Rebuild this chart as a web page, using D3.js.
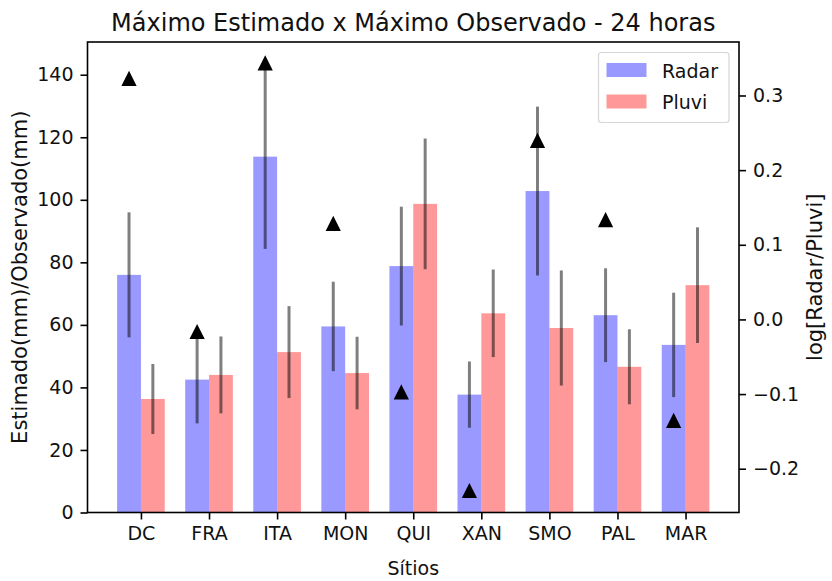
<!DOCTYPE html>
<html>
<head>
<meta charset="utf-8">
<script src="https://cdn.jsdelivr.net/npm/d3@7"></script>
<style>
  html, body { margin: 0; padding: 0; background: #fff; }
  svg { display: block; font-family: "DejaVu Sans", sans-serif; }
</style>
</head>
<body>
<svg id="chart" width="832" height="581"></svg>
<script>
// Sites along the x axis
const sites = ["DC", "FRA", "ITA", "MON", "QUI", "XAN", "SMO", "PAL", "MAR"];

// Maximum 24 h rainfall (mm): radar estimate and rain-gauge observation
const radar = [76.0, 42.5, 113.8, 59.5, 78.8, 37.7, 102.8, 63.1, 53.6];
const pluvi = [36.3, 44.0, 51.3, 44.6, 98.7, 63.7, 59.0, 46.6, 72.7];

// Error bar half-lengths (mm)
const radarErr = [20.0, 14.0, 29.5, 14.3, 19.0, 10.6, 27.0, 15.0, 16.7];
const pluviErr = [11.2, 12.3, 14.7, 11.6, 20.9, 14.0, 18.4, 12.0, 18.5];

// log10(Radar/Pluvi) per site, plotted on the right axis
const logRatio = [0.322, -0.017, 0.343, 0.128, -0.098, -0.230, 0.239, 0.133, -0.136];

const leftTicks = [0, 20, 40, 60, 80, 100, 120, 140];
const rightTicks = [-0.2, -0.1, 0.0, 0.1, 0.2, 0.3];

const barWidth = 0.35;

const svg = d3.select("#chart");
const plot = { left: 87.5, right: 739, top: 42, bottom: 512.5 };
const tickFont = 19;
const labelFont = 21;
const textColor = "#111";

// x: category index with matplotlib-style 5% margins around the bars
const xMin = -barWidth, xMax = sites.length - 1 + barWidth;
const xPad = 0.05 * (xMax - xMin);
const x = d3.scaleLinear().domain([xMin - xPad, xMax + xPad]).range([plot.left, plot.right]);

// left y: bars start at 0, top gets a 5% margin above the highest error bar
const yTop = d3.max([
  ...radar.map((v, i) => v + radarErr[i]),
  ...pluvi.map((v, i) => v + pluviErr[i])
]) * 1.05;
const y = d3.scaleLinear().domain([0, yTop]).range([plot.bottom, plot.top]);

// right y: 5% margin both ways around the ratio markers
const rMin = d3.min(logRatio), rMax = d3.max(logRatio);
const rPad = 0.05 * (rMax - rMin);
const y2 = d3.scaleLinear().domain([rMin - rPad, rMax + rPad]).range([plot.bottom, plot.top]);

// bars
const g = svg.append("g");
g.selectAll("rect.radar").data(radar).join("rect")
  .attr("class", "radar")
  .attr("x", (d, i) => x(i - barWidth))
  .attr("width", (d, i) => x(i) - x(i - barWidth))
  .attr("y", d => y(d))
  .attr("height", d => y(0) - y(d))
  .attr("fill", "#0000ff").attr("fill-opacity", 0.4);

g.selectAll("rect.pluvi").data(pluvi).join("rect")
  .attr("class", "pluvi")
  .attr("x", (d, i) => x(i))
  .attr("width", (d, i) => x(i + barWidth) - x(i))
  .attr("y", d => y(d))
  .attr("height", d => y(0) - y(d))
  .attr("fill", "#ff0000").attr("fill-opacity", 0.4);

// error bars, centred on each bar
const errs = [
  ...radar.map((v, i) => ({ cx: i - barWidth / 2, v, e: radarErr[i] })),
  ...pluvi.map((v, i) => ({ cx: i + barWidth / 2, v, e: pluviErr[i] }))
];
g.selectAll("line.err").data(errs).join("line")
  .attr("class", "err")
  .attr("x1", d => x(d.cx)).attr("x2", d => x(d.cx))
  .attr("y1", d => y(d.v - d.e)).attr("y2", d => y(d.v + d.e))
  .attr("stroke", "#000").attr("stroke-opacity", 0.5)
  .attr("stroke-width", 3);

// ratio markers (triangles centred on their value)
const s = 6;
g.selectAll("path.tri").data(logRatio).join("path")
  .attr("class", "tri")
  .attr("d", (d, i) => {
    const cx = x(i - barWidth / 2), cy = y2(d);
    return `M${cx},${cy - s}L${cx + s},${cy + s}L${cx - s},${cy + s}Z`;
  })
  .attr("fill", "#000").attr("stroke", "#000").attr("stroke-width", 2)
  .attr("stroke-linejoin", "miter");

// axes
const axisStyle = sel => {
  sel.select(".domain").remove();
  sel.selectAll(".tick line").attr("stroke", "#000").attr("stroke-width", 1.6);
  sel.selectAll(".tick text").attr("fill", textColor)
    .style("font-size", tickFont + "px").style("font-family", "DejaVu Sans");
};

svg.append("g")
  .attr("transform", `translate(${plot.left},0)`)
  .call(d3.axisLeft(y).tickValues(leftTicks).tickSize(7).tickPadding(7).tickFormat(d3.format("d")))
  .call(axisStyle);

svg.append("g")
  .attr("transform", `translate(${plot.right},0)`)
  .call(d3.axisRight(y2).tickValues(rightTicks).tickSize(7).tickPadding(7)
    .tickFormat(d => d3.format(".1f")(d).replace("-", "\u2212")))
  .call(axisStyle);

svg.append("g")
  .attr("transform", `translate(0,${plot.bottom})`)
  .call(d3.axisBottom(x).tickValues(d3.range(sites.length)).tickSize(7).tickPadding(7)
    .tickFormat(i => sites[i]))
  .call(axisStyle);

// frame
svg.append("rect")
  .attr("x", plot.left).attr("y", plot.top)
  .attr("width", plot.right - plot.left).attr("height", plot.bottom - plot.top)
  .attr("fill", "none").attr("stroke", "#000").attr("stroke-width", 1.6);

// title and axis labels
svg.append("text")
  .attr("x", (plot.left + plot.right) / 2).attr("y", 31)
  .attr("text-anchor", "middle")
  .style("font-size", "24px").attr("fill", textColor)
  .text("Máximo Estimado x Máximo Observado - 24 horas");

svg.append("text")
  .attr("x", (plot.left + plot.right) / 2).attr("y", 575)
  .attr("text-anchor", "middle")
  .style("font-size", tickFont + "px").attr("fill", textColor)
  .text("Sítios");

svg.append("text")
  .attr("transform", `translate(27,${(plot.top + plot.bottom) / 2}) rotate(-90)`)
  .attr("text-anchor", "middle")
  .style("font-size", labelFont + "px").attr("fill", textColor)
  .text("Estimado(mm)/Observado(mm)");

svg.append("text")
  .attr("transform", `translate(822,${(plot.top + plot.bottom) / 2}) rotate(-90)`)
  .attr("text-anchor", "middle")
  .style("font-size", labelFont + "px").attr("fill", textColor)
  .text("log[Radar/Pluvi]");

// legend
const legend = svg.append("g");
legend.append("rect")
  .attr("x", 598.5).attr("y", 52.5).attr("width", 130.5).attr("height", 70)
  .attr("rx", 3).attr("fill", "#fff").attr("fill-opacity", 0.8)
  .attr("stroke", "#d6d6d6").attr("stroke-width", 1.2);
const items = [
  { label: "Radar", color: "#0000ff" },
  { label: "Pluvi", color: "#ff0000" }
];
items.forEach((it, k) => {
  const yy = 63 + k * 31.5;
  legend.append("rect").attr("x", 606.5).attr("y", yy).attr("width", 40).attr("height", 14)
    .attr("fill", it.color).attr("fill-opacity", 0.4);
  legend.append("text").attr("x", 662).attr("y", yy + 14.5)
    .style("font-size", tickFont + "px").attr("fill", textColor)
    .text(it.label);
});
</script>
</body>
</html>
